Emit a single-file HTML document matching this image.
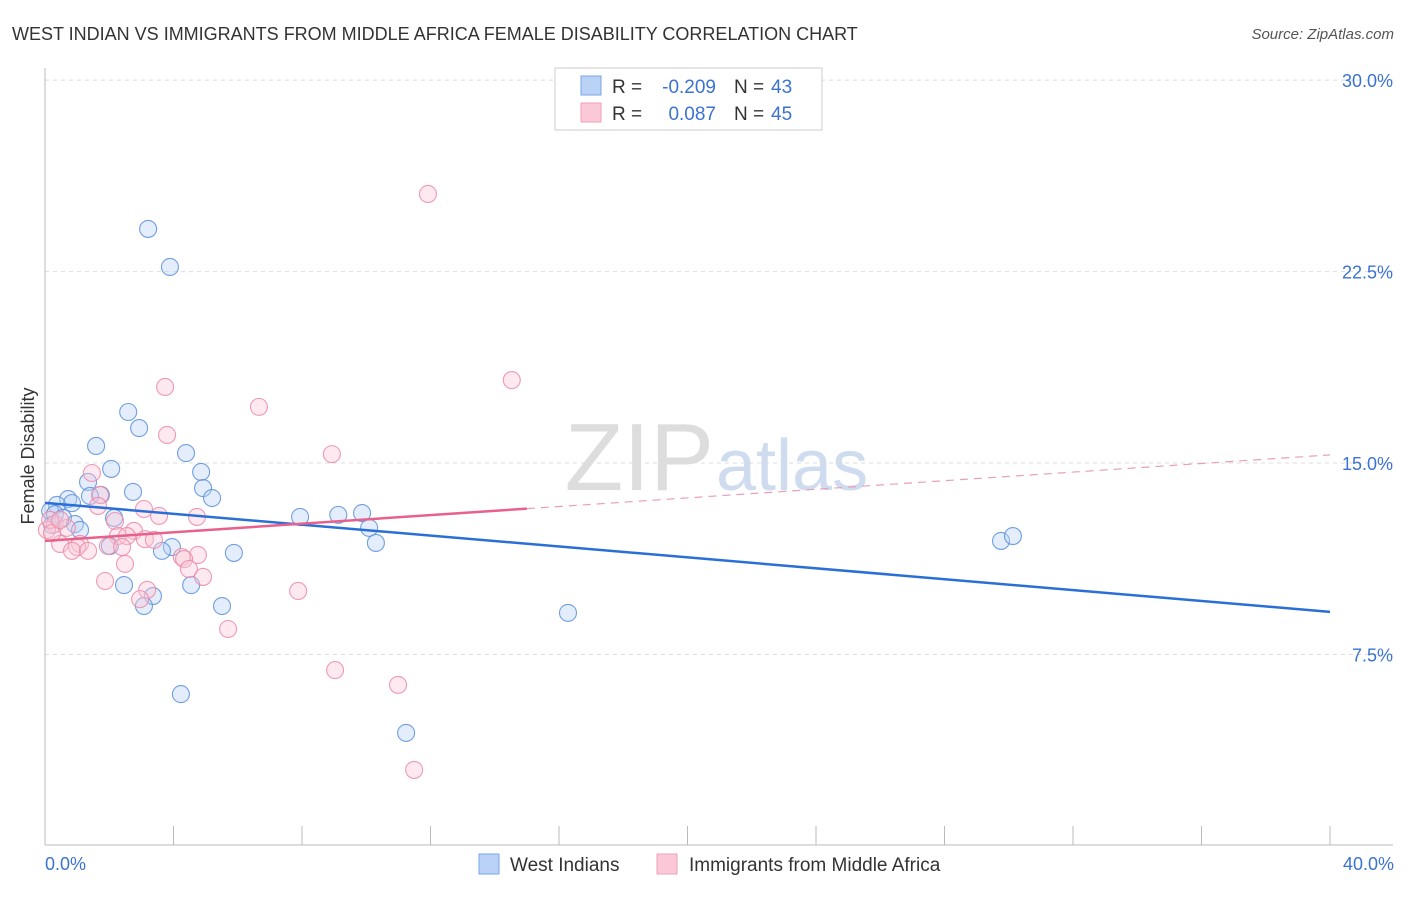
<!DOCTYPE html>
<html><head><meta charset="utf-8"><style>
body{margin:0;background:#fff;font-family:"Liberation Sans",sans-serif}
svg text{font-family:"Liberation Sans",sans-serif}
</style></head><body>
<svg width="1406" height="892" xmlns="http://www.w3.org/2000/svg">
<text x="12" y="40" font-size="18" fill="#333">WEST INDIAN VS IMMIGRANTS FROM MIDDLE AFRICA FEMALE DISABILITY CORRELATION CHART</text>
<text x="1394" y="39" font-size="15" fill="#555" text-anchor="end" font-style="italic">Source: ZipAtlas.com</text>
<text x="714" y="490" font-size="96" fill="#ddd" text-anchor="end" font-family="Liberation Serif">ZIP</text>
<text x="716" y="490" font-size="72" fill="#cfdcf0">atlas</text>
<g id="grid"></g><g id="axes"></g><g id="marks"></g>
<text transform="translate(34,456) rotate(-90)" font-size="18" fill="#333" text-anchor="middle">Female Disability</text>
<text x="45" y="870" font-size="18" fill="#3b73d1">0.0%</text>
<text x="1394" y="870" font-size="18" fill="#3b73d1" text-anchor="end">40.0%</text>
<g>
<rect x="555" y="68" width="267" height="62" fill="#fff" stroke="#ccc"/>
<rect x="581" y="76" width="20" height="19" fill="#b9d2f5" stroke="#7aa5e6"/>
<rect x="581" y="103" width="20" height="19" fill="#fbc8d7" stroke="#f0a0b8"/>
<text x="612" y="93" font-size="19" fill="#333">R =</text>
<text x="716" y="93" font-size="19" fill="#3b73d1" text-anchor="end">-0.209</text>
<text x="734" y="93" font-size="19" fill="#333">N =</text>
<text x="771" y="93" font-size="19" fill="#3b73d1">43</text>
<text x="612" y="120" font-size="19" fill="#333">R =</text>
<text x="716" y="120" font-size="19" fill="#3b73d1" text-anchor="end">0.087</text>
<text x="734" y="120" font-size="19" fill="#333">N =</text>
<text x="771" y="120" font-size="19" fill="#3b73d1">45</text>
</g>
<g>
<rect x="479" y="854" width="20" height="20" fill="#b9d2f5" stroke="#7aa5e6"/>
<text x="510" y="871" font-size="19" fill="#333">West Indians</text>
<rect x="657" y="854" width="20" height="20" fill="#fbc8d7" stroke="#f0a0b8"/>
<text x="689" y="871" font-size="19" fill="#333">Immigrants from Middle Africa</text>
</g>
</svg>
<script>
const yTicks=[7.5,15,22.5,30];
const yTickLabels=["7.5%","15.0%","22.5%","30.0%"];
const blueX=[3.21,3.89,2.59,2.93,1.59,4.39,2.06,4.86,1.34,4.92,2.74,1.74,1.40,5.20,0.72,0.84,0.37,0.16,0.31,0.56,0.93,1.09,2.15,7.94,9.13,9.87,10.09,10.3,2.02,3.95,3.64,5.88,2.46,4.55,3.36,3.08,5.51,16.28,4.23,11.24,29.76,30.13,0.22];
const blueY=[24.17,22.68,17.0,16.37,15.67,15.39,14.77,14.65,14.26,14.02,13.87,13.75,13.71,13.63,13.59,13.43,13.36,13.12,13.0,12.85,12.61,12.38,12.85,12.89,12.97,13.04,12.46,11.87,11.75,11.71,11.56,11.48,10.22,10.22,9.79,9.40,9.40,9.13,5.95,4.43,11.95,12.14,12.57];
const pinkX=[11.92,14.53,3.74,6.66,3.80,8.93,1.46,1.71,1.65,3.08,4.73,3.55,2.18,0.31,0.68,0.06,2.77,2.27,2.55,3.11,3.39,0.47,1.09,1.96,1.0,2.4,0.84,1.34,4.76,4.26,4.33,2.49,4.48,4.92,1.87,7.88,3.18,2.96,5.7,9.03,10.99,11.49,0.16,0.22,0.47];
const pinkY=[25.54,18.25,17.98,17.2,16.1,15.35,14.61,13.75,13.32,13.2,12.89,12.93,12.73,12.61,12.46,12.38,12.34,12.14,12.14,12.02,11.99,11.83,11.83,11.75,11.71,11.71,11.56,11.56,11.4,11.32,11.24,11.05,10.85,10.54,10.38,9.99,10.03,9.67,8.50,6.89,6.31,2.98,12.77,12.26,12.77];
const blueTrend=[13.44,9.17];
const pinkTrend=[11.95,15.32];
const pinkSolidEnd=15.0;
const NS="http://www.w3.org/2000/svg";
const X=v=>45+v/40*1285, Y=v=>846-v*25.53;
function mk(t,a,p){const e=document.createElementNS(NS,t);for(const k in a)e.setAttribute(k,a[k]);p.appendChild(e);return e;}
const grid=document.getElementById('grid'),axes=document.getElementById('axes'),marks=document.getElementById('marks');
yTicks.forEach((v,i)=>{
 const l=mk('line',{x1:45,x2:1393,y1:Y(v),y2:Y(v),stroke:'#ddd','stroke-dasharray':'4,4'},grid);
 
 
 const t=mk('text',{x:1393,y:Y(v)+7,'font-size':18,fill:'#3b73d1','text-anchor':'end'},grid);
 t.textContent=yTickLabels[i];
 
 
});
let a=mk('line',{x1:45,x2:45,y1:68,y2:845,stroke:'#bbb'},axes);


a=mk('line',{x1:45,x2:1393,y1:845,y2:845,stroke:'#bbb'},axes);


for(let i=0;i<=10;i++){const t=mk('line',{x1:X(i*4),x2:X(i*4),y1:826,y2:845,stroke:'#bbb'},axes);
 
 }
function dots(xs,ys,fill,stroke,name){xs.forEach((x,i)=>{const c=mk('circle',{cx:X(x),cy:Y(ys[i]),r:8.5,fill:fill,'fill-opacity':0.4,stroke:stroke,'stroke-width':1.1,'stroke-opacity':0.85},marks);
 
 });}
dots(blueX,blueY,'#b9d2f5','#5b8fdc','west-indian-point');
dots(pinkX,pinkY,'#fbc8d7','#ec8aa8','middle-africa-point');
let tl=mk('line',{x1:X(0),y1:Y(blueTrend[0]),x2:X(40),y2:Y(blueTrend[1]),stroke:'#2a6fd6','stroke-width':2.5},marks);


const py=x=>pinkTrend[0]+(pinkTrend[1]-pinkTrend[0])*x/40;
tl=mk('line',{x1:X(0),y1:Y(py(0)),x2:X(pinkSolidEnd),y2:Y(py(pinkSolidEnd)),stroke:'#e8608c','stroke-width':2.5},marks);


tl=mk('line',{x1:X(pinkSolidEnd),y1:Y(py(pinkSolidEnd)),x2:X(40),y2:Y(py(40)),stroke:'#e8a0b8','stroke-width':1.2,'stroke-dasharray':'8,6'},marks);


</script>
</body></html>
